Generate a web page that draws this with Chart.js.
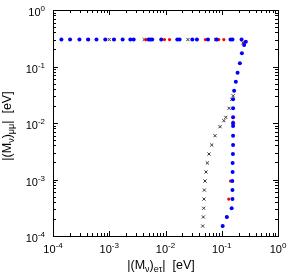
<!DOCTYPE html>
<html><head><meta charset="utf-8">
<script src="https://cdn.jsdelivr.net/npm/chart.js@4"></script>
<style>html,body{margin:0;padding:0;background:#fff}canvas{display:block}</style>
</head><body>
<canvas id="c" width="289" height="275"></canvas>
<script>
// ---- data ----
const tickExponents = [-4, -3, -2, -1, 0];

const blueX = [1.41e-4, 2.01e-4, 2.95e-4, 4.22e-4, 5.93e-4, 8.49e-4, 1.21e-3, 1.73e-3, 2.37e-3, 2.72e-3,
  5.04e-3, 5.4e-3, 5.8e-3, 8.4e-3, 0.0162, 0.0178, 0.030, 0.0362, 0.0569, 0.0804, 0.143, 0.155, 0.225,
  0.268, 0.250, 0.228, 0.210, 0.191, 0.178, 0.166, 0.159, 0.159, 0.159, 0.159, 0.159, 0.159,
  0.159, 0.158, 0.156, 0.156, 0.154, 0.155, 0.155, 0.150, 0.123, 0.104];
const blueY = [0.3, 0.3, 0.3, 0.3, 0.3, 0.3, 0.3, 0.3, 0.3, 0.3,
  0.3, 0.3, 0.3, 0.3, 0.3, 0.3, 0.3, 0.3, 0.3, 0.3, 0.3, 0.3, 0.3,
  0.275, 0.240, 0.171, 0.114, 0.0777, 0.0538, 0.0373, 0.0263, 0.0182, 0.0126, 0.0099, 0.00885, 0.00596,
  0.00408, 0.00283, 0.00196, 0.00136, 9.4e-4, 6.5e-4, 4.5e-4, 3.1e-4, 2.17e-4, 1.5e-4];

const redX = [4.22e-4, 1.23e-3, 4.5e-3, 9.6e-3, 0.0118, 0.0512, 0.0883, 0.109,
  0.250, 0.159, 0.143, 0.133, 0.124, 0.103];
const redY = [0.3, 0.3, 0.3, 0.3, 0.3, 0.3, 0.3, 0.3,
  0.265, 0.0104, 9.4e-4, 4.5e-4, 2.17e-4, 1.5e-4];

const grayX = [4.22e-4, 1.0e-3, 4.17e-3, 0.025, 0.078, 0.237,
  0.159, 0.151, 0.135, 0.118, 0.109, 0.0933, 0.0759, 0.0663, 0.0593, 0.0555, 0.0525,
  0.0504, 0.0491, 0.0483, 0.0477, 0.0471, 0.0458];
const grayY = [0.3, 0.3, 0.3, 0.3, 0.3, 0.261,
  0.0304, 0.0263, 0.0182, 0.0126, 0.0110, 0.0086, 0.00596, 0.00408, 0.00283, 0.00196, 0.00136,
  9.4e-4, 6.5e-4, 4.5e-4, 3.1e-4, 2.17e-4, 1.5e-4];

function pts(xs, ys) { return xs.map((x, i) => ({ x: x, y: ys[i] })); }

const FONT = '"Liberation Sans", Arial, sans-serif';

function drawRich(ctx, parts, x, y, align) {
  let total = 0;
  parts.forEach(p => { ctx.font = p.size + 'px ' + FONT; p.w = ctx.measureText(p.t).width; total += p.w; });
  let cx = align === 'center' ? x - total / 2 : (align === 'right' ? x - total : x);
  ctx.textAlign = 'left';
  ctx.textBaseline = 'alphabetic';
  parts.forEach(p => { ctx.font = p.size + 'px ' + FONT; ctx.fillText(p.t, cx, y + (p.dy || 0)); cx += p.w; });
}

const framePlugin = {
  id: 'frame',
  beforeDatasetsDraw(chart) {
    const { ctx, chartArea: a, scales } = chart;
    const xs = scales.x, ys = scales.y;
    ctx.save();
    ctx.strokeStyle = '#000';
    ctx.lineWidth = 1;
    ctx.strokeRect(Math.round(a.left) + 0.5, Math.round(a.top) + 0.5,
      Math.round(a.right) - Math.round(a.left), Math.round(a.bottom) - Math.round(a.top));
    ctx.beginPath();
    for (let e = -4; e <= 0; e++) {
      for (let m = 1; m <= 9; m++) {
        if (e === 0 && m > 1) break;
        const v = m * Math.pow(10, e);
        const len = m === 1 ? 5 : 3;
        const px = Math.round(xs.getPixelForValue(v)) + 0.5;
        ctx.moveTo(px, a.bottom); ctx.lineTo(px, a.bottom - len);
        ctx.moveTo(px, a.top); ctx.lineTo(px, a.top + len);
        const py = Math.round(ys.getPixelForValue(v)) + 0.5;
        ctx.moveTo(a.left, py); ctx.lineTo(a.left + len, py);
        ctx.moveTo(a.right, py); ctx.lineTo(a.right - len, py);
      }
    }
    ctx.stroke();
    ctx.restore();
  },
  afterDraw(chart) {
    const { ctx, chartArea: a, scales } = chart;
    const xs = scales.x, ys = scales.y;
    ctx.save();
    ctx.fillStyle = '#000';
    tickExponents.forEach(e => {
      const v = Math.pow(10, e);
      const px = xs.getPixelForValue(v);
      drawRich(ctx, [{ t: '10', size: 11 }, { t: String(e), size: 8, dy: -5 }], px, a.bottom + 17, 'center');
      const py = ys.getPixelForValue(v);
      drawRich(ctx, [{ t: '10', size: 11 }, { t: String(e), size: 8, dy: -5 }], a.left - 8, py + 6, 'right');
    });
    // x title
    drawRich(ctx, [
      { t: '|(M', size: 12.5 }, { t: 'ν', size: 9, dy: 3 }, { t: ')', size: 12.5 },
      { t: 'eτ', size: 9, dy: 3 }, { t: '|  [eV]', size: 12.5 }
    ], 161, 269, 'center');
    // y title
    ctx.translate(11, 126);
    ctx.rotate(-Math.PI / 2);
    drawRich(ctx, [
      { t: '|(M', size: 12.5 }, { t: 'ν', size: 9, dy: 3 }, { t: ')', size: 12.5 },
      { t: 'μμ', size: 9, dy: 3 }, { t: '|  [eV]', size: 12.5 }
    ], 0, 0, 'center');
    ctx.restore();
  }
};

new Chart(document.getElementById('c'), {
  type: 'scatter',
  data: {
    datasets: [
      { label: 'blue', data: pts(blueX, blueY), pointStyle: 'circle', pointRadius: 2,
        backgroundColor: '#0000ff', borderColor: '#0000ff', borderWidth: 0, order: 1 },
      { label: 'red', data: pts(redX, redY), pointStyle: 'circle', pointRadius: 1.6,
        backgroundColor: '#ff0000', borderColor: '#ff0000', borderWidth: 0, order: 2 },
      { label: 'gray', data: pts(grayX, grayY), pointStyle: 'crossRot', pointRadius: 2.2,
        backgroundColor: '#333', borderColor: '#333', borderWidth: 1, order: 3 }
    ]
  },
  options: {
    responsive: false,
    animation: false,
    events: [],
    layout: { padding: { left: 53, right: 11, top: 10, bottom: 39 } },
    plugins: { legend: { display: false }, tooltip: { enabled: false } },
    scales: {
      x: { type: 'logarithmic', min: 1e-4, max: 1,
        grid: { display: false, drawTicks: false }, border: { display: false },
        ticks: { display: false }, afterFit(s) { s.height = 0; } },
      y: { type: 'logarithmic', min: 1e-4, max: 1,
        grid: { display: false, drawTicks: false }, border: { display: false },
        ticks: { display: false }, afterFit(s) { s.width = 0; } }
    }
  },
  plugins: [framePlugin]
});
</script>
</body></html>
